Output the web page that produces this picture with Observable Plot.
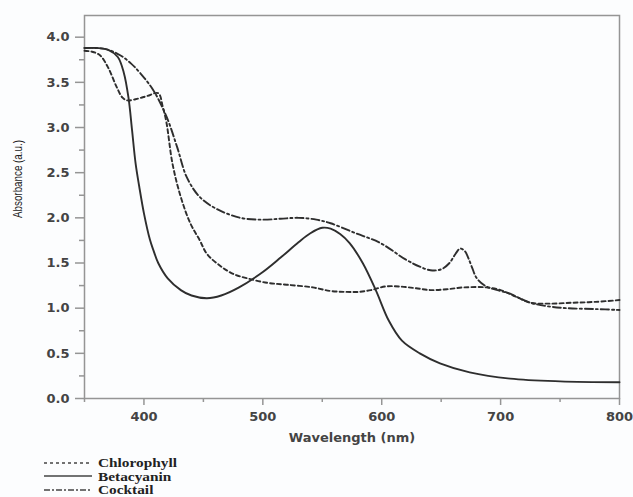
<!DOCTYPE html>
<html><head><meta charset="utf-8">
<script src="https://cdn.jsdelivr.net/npm/d3@7"></script>
<script src="https://cdn.jsdelivr.net/npm/@observablehq/plot@0.6"></script>
<style>
html,body{margin:0;padding:0;background:#fcfdfe;overflow:hidden;}
#chart svg{display:block;}
#legend{font-family:"Liberation Serif","Times New Roman",serif;font-weight:bold;font-size:13px;color:#222;margin-left:44px;margin-top:4px;}
#legend div{display:flex;align-items:center;height:13.5px;line-height:13.5px;}
#legend svg{margin-right:6px;flex:none;}
#legend span{display:inline-block;transform:scaleX(1.18);transform-origin:left center;}
</style></head>
<body><div id="chart"></div><div id="legend"></div>
<script>
const seriesNames = ["Chlorophyll","Betacyanin","Cocktail"];
const dashes = {"Chlorophyll":"4,3","Betacyanin":null,"Cocktail":"8,3,2,3"};

const chlX = [350,356,363,370,377,382,386,395,403,412,416,419,424,431,439,447,453,464,475,487,504,520,542,557,570,580,591,603,615,629,641,655,669,688,700,714,725,740,760,780,800];
const chlY = [3.85,3.84,3.8,3.66,3.45,3.33,3.3,3.32,3.35,3.38,3.22,3.05,2.6,2.23,1.94,1.75,1.6,1.47,1.38,1.33,1.28,1.26,1.23,1.19,1.18,1.18,1.2,1.24,1.24,1.22,1.2,1.21,1.23,1.23,1.2,1.12,1.06,1.05,1.06,1.07,1.09];

const betaX = [350,360,370,378,383,387,390,393,396,400,405,408,412,420,431,440,453,465,480,500,515,530,540,550,557,565,573,584,595,606,617,632,649,674,708,750,800];
const betaY = [3.88,3.88,3.86,3.78,3.61,3.33,2.97,2.6,2.35,2.05,1.76,1.64,1.5,1.33,1.2,1.14,1.11,1.14,1.23,1.4,1.56,1.73,1.83,1.89,1.88,1.82,1.72,1.5,1.2,0.86,0.64,0.5,0.39,0.29,0.22,0.19,0.18];

const cocX = [350,360,370,380,389,397,408,419,428,436,447,461,481,500,515,530,545,557,578,599,620,632,641,650,657,662,666,670,673,676,680,688,700,708,716,725,740,756,780,800];
const cocY = [3.88,3.88,3.86,3.8,3.71,3.6,3.41,3.12,2.78,2.45,2.23,2.1,2.0,1.98,1.99,2.0,1.98,1.94,1.83,1.72,1.54,1.46,1.42,1.43,1.5,1.6,1.66,1.63,1.55,1.45,1.33,1.24,1.19,1.16,1.11,1.06,1.02,1.0,0.99,0.98];

const xMajor = [400,500,600,700,800];
const xMinor = [350,450,550,650,750];
const yMajor = [0,0.5,1,1.5,2,2.5,3,3.5,4];
const yMinor = [0.25,0.75,1.25,1.75,2.25,2.75,3.25,3.75];
const xTitle = "Wavelength (nm)";
const yTitle = "Absorbance (a.u.)";

const toRows = (name, xs, ys) => xs.map((x,i)=>({series:name, x, y:ys[i]}));
const sets = {
  "Chlorophyll": toRows("Chlorophyll", chlX, chlY),
  "Betacyanin": toRows("Betacyanin", betaX, betaY),
  "Cocktail": toRows("Cocktail", cocX, cocY)
};

const ink = "#2e2e2e";
const axisColor = "#959595";
const bold = "'DejaVu Sans', Verdana, sans-serif";
const plot = Plot.plot({
  width: 633, height: 452,
  marginLeft: 84, marginRight: 14, marginTop: 15, marginBottom: 54,
  style: {fontFamily: bold, background: "#fcfdfe", color: "#444"},
  x: {domain: [350, 800]},
  y: {domain: [0, 4.24]},
  marks: [
    Plot.frame({stroke: axisColor, strokeWidth: 1.5}),
    Plot.axisX({ticks: xMinor, tickSize: 4, tickFormat: () => "", stroke: axisColor, strokeWidth: 1.5, label: null}),
    Plot.axisX({ticks: xMajor, tickSize: 7, tickPadding: 6, tickFormat: d3.format("d"), stroke: axisColor, strokeWidth: 1.5,
      fontSize: 13, fontWeight: "bold", fill: "#444",
      label: xTitle, labelAnchor: "center", labelArrow: "none", labelOffset: 43}),
    Plot.axisY({ticks: yMinor, tickSize: 5, tickFormat: () => "", stroke: axisColor, strokeWidth: 1.5, label: null}),
    Plot.axisY({ticks: yMajor, tickSize: 9, tickPadding: 6, tickFormat: d3.format(".1f"), stroke: axisColor, strokeWidth: 1.5,
      fontSize: 13, fontWeight: "bold", fill: "#444", label: null}),
    Plot.text([yTitle], {frameAnchor: "left", rotate: -90, dx: -66, dy: -28, textAnchor: "middle",
      fontSize: 12, fill: "#222", fontFamily: "'Liberation Sans', Arial, sans-serif", className: "ytitle"}),
    ...seriesNames.map(n => Plot.line(sets[n], {x: "x", y: "y", stroke: ink, strokeWidth: 1.9,
      strokeDasharray: dashes[n], curve: "catmull-rom"}))
  ]
});
document.getElementById("chart").appendChild(plot);
// compress the rotated y title to the reference's length
d3.select(plot).selectAll(".ytitle text")
  .attr("textLength", 78).attr("lengthAdjust", "spacingAndGlyphs");

const leg = document.getElementById("legend");
for (const n of seriesNames) {
  const row = document.createElement("div");
  const da = dashes[n] ? ` stroke-dasharray="${n === "Chlorophyll" ? "3,3" : "6,2,2,2"}"` : "";
  row.innerHTML = `<svg width="48" height="6"><line x1="0" y1="3" x2="48" y2="3" stroke="#444" stroke-width="1.3"${da}/></svg><span>${n}</span>`;
  leg.appendChild(row);
}
</script></body></html>
